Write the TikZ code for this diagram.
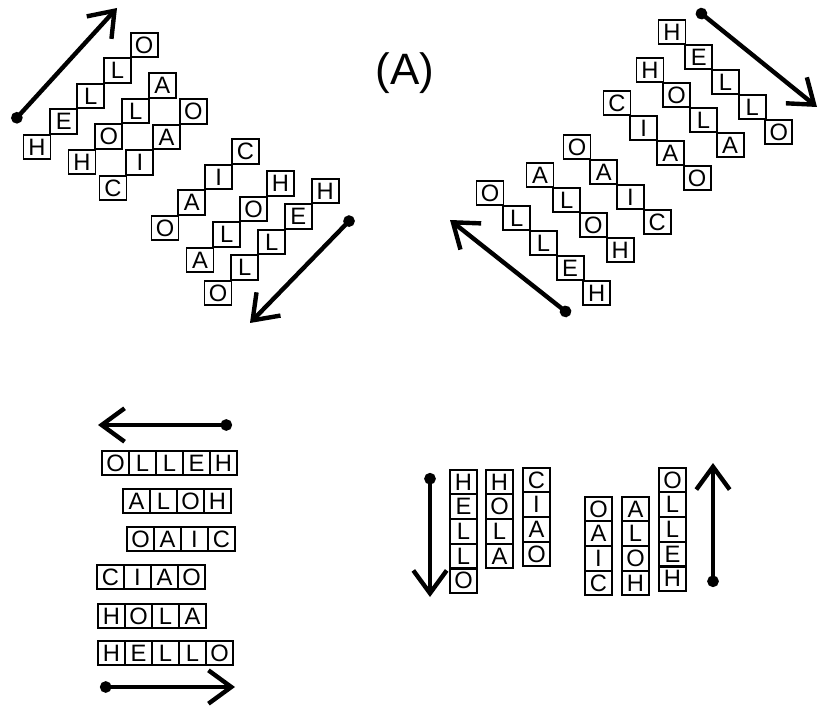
\documentclass[tikz,border=0pt]{standalone}
\usepackage{fontspec}
\setmainfont{Liberation Sans}
\usepackage{tikz}
\usetikzlibrary{arrows.meta, calc}
\tikzset{
  cell/.style={rectangle, draw=black, line width=1.1pt, minimum width=0.54cm, minimum height=0.49cm, inner sep=0pt, font=\fontsize{13.5}{15}\selectfont},
  flow/.style={{Circle[length=6.5pt]}-{Straight Barb[length=13pt, width=19pt]}, line width=2.5pt, draw=black},
  tag/.style={font=\fontsize{25}{30}\selectfont},
}
% one word as a run of boxed letters: name, first centre, step, letters
\newcommand{\putword}[4]{%
  \foreach \ch [count=\i from 0] in {#4}
    \node[cell] (#1-\i) at ($(#2)+\i*(#3)$) {\ch};%
}

\begin{document}
\begin{tikzpicture}[x=0.02cm, y=-0.02cm]
  \useasboundingbox (0,0) rectangle (825,709);

  \node[tag] (label) at (405,73) {(A)};

  % upper left: rising diagonals
  \putword{tl-hello}{37,147}{26.8,-25.5}{H,E,L,L,O}
  \putword{tl-hola}{82,162}{26.8,-25.5}{H,O,L,A}
  \putword{tl-ciao}{113,188}{26.8,-25.5}{C,I,A,O}
  \putword{tl-oaic}{165,228}{26.8,-25.5}{O,A,I,C}
  \putword{tl-aloh}{200,260}{26.8,-25.5}{A,L,O,H}
  \putword{tl-olleh}{218,293}{26.8,-25.5}{O,L,L,E,H}
  \coordinate (tl-up-s) at (13,122);
  \coordinate (tl-up-e) at (117,8);
  \coordinate (tl-dn-s) at (353,217);
  \coordinate (tl-dn-e) at (250,323);
  \draw[flow] (tl-up-s) -- (tl-up-e);
  \draw[flow] (tl-dn-s) -- (tl-dn-e);

  % upper right: falling diagonals
  \putword{tr-hello}{672,32}{26.7,25}{H,E,L,L,O}
  \putword{tr-hola}{650,70}{26.7,25}{H,O,L,A}
  \putword{tr-ciao}{617,103}{26.7,25}{C,I,A,O}
  \putword{tr-oaic}{577,147}{26.7,25}{O,A,I,C}
  \putword{tr-aloh}{540,175}{26.7,25}{A,L,O,H}
  \putword{tr-olleh}{490,193}{26.7,25}{O,L,L,E,H}
  \coordinate (tr-dn-s) at (697,10);
  \coordinate (tr-dn-e) at (817,107);
  \coordinate (tr-up-s) at (570,315);
  \coordinate (tr-up-e) at (450,220);
  \draw[flow] (tr-dn-s) -- (tr-dn-e);
  \draw[flow] (tr-up-s) -- (tr-up-e);

  % lower left: rows
  \putword{bl-olleh}{115.5,463}{27,0}{O,L,L,E,H}
  \putword{bl-aloh}{136.5,501}{27,0}{A,L,O,H}
  \putword{bl-oaic}{140.5,539}{27,0}{O,A,I,C}
  \putword{bl-ciao}{110.5,577}{27,0}{C,I,A,O}
  \putword{bl-hola}{111.5,616}{27,0}{H,O,L,A}
  \putword{bl-hello}{111.5,653}{27,0}{H,E,L,L,O}
  \coordinate (bl-lt-s) at (232,425);
  \coordinate (bl-lt-e) at (98,425);
  \coordinate (bl-rt-s) at (100,687);
  \coordinate (bl-rt-e) at (235,687);
  \draw[flow] (bl-lt-s) -- (bl-lt-e);
  \draw[flow] (bl-rt-s) -- (bl-rt-e);

  % lower right: columns
  \putword{br-hello}{463.5,482}{0,24.7}{H,E,L,L,O}
  \putword{br-hola}{499.5,482}{0,24.7}{H,O,L,A}
  \putword{br-ciao}{536.5,480}{0,24.7}{C,I,A,O}
  \putword{br-oaic}{598.5,509}{0,24.7}{O,A,I,C}
  \putword{br-aloh}{635.5,509}{0,24.7}{A,L,O,H}
  \putword{br-olleh}{672.5,480}{0,24.7}{O,L,L,E,H}
  \coordinate (br-dn-s) at (430,473);
  \coordinate (br-dn-e) at (430,597);
  \coordinate (br-up-s) at (713,587);
  \coordinate (br-up-e) at (713,463);
  \draw[flow] (br-dn-s) -- (br-dn-e);
  \draw[flow] (br-up-s) -- (br-up-e);
\end{tikzpicture}
\end{document}
